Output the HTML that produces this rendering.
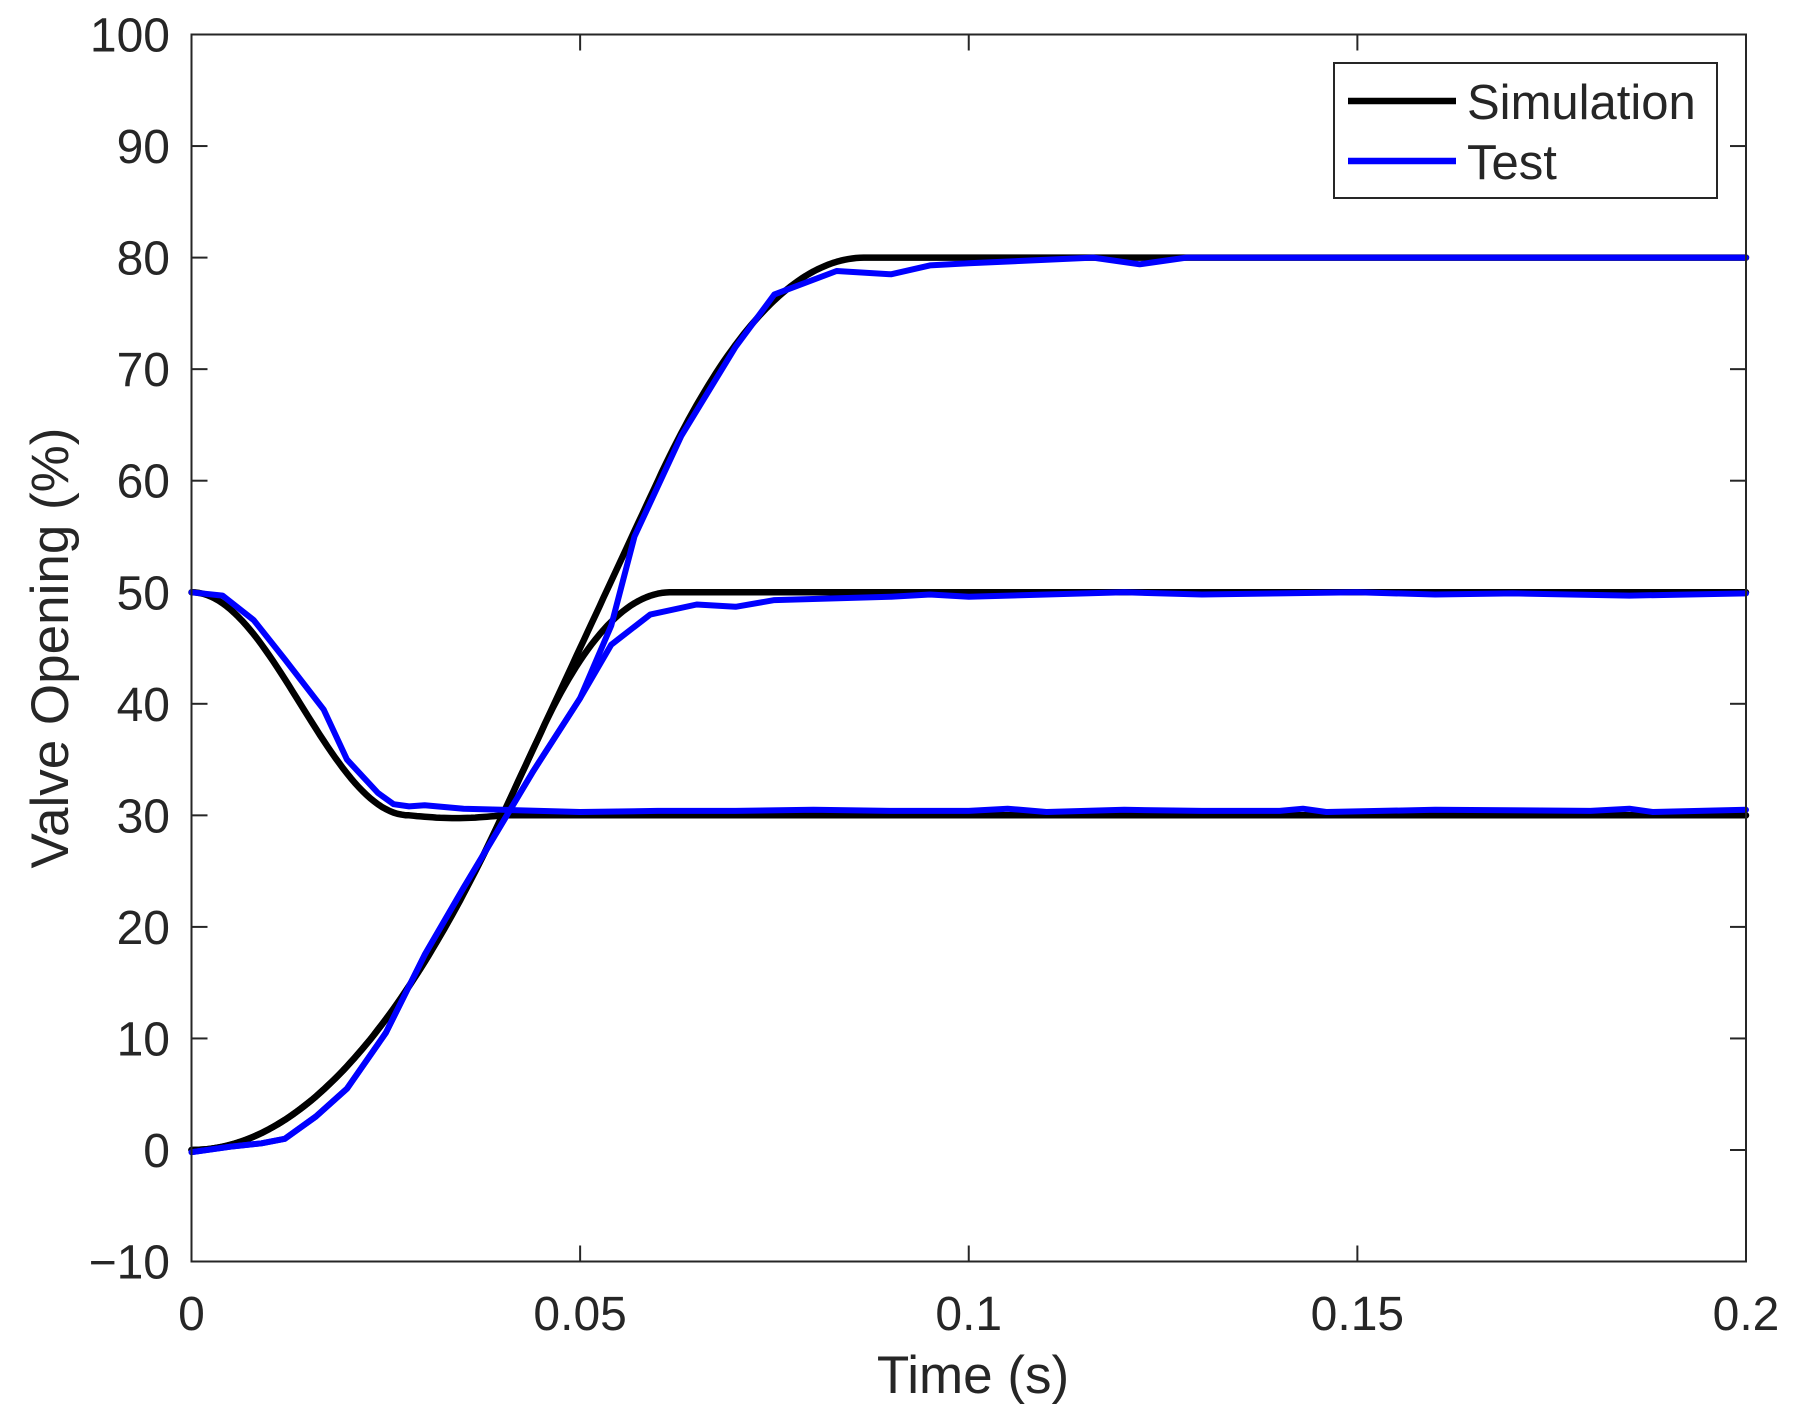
<!DOCTYPE html>
<html><head><meta charset="utf-8"><style>
html,body{margin:0;padding:0;background:#fff}
svg{display:block}
text{font-family:"Liberation Sans",Arial,sans-serif;fill:#262626}
</style></head><body>
<svg id="s" width="1799" height="1428" xmlns="http://www.w3.org/2000/svg">
<rect width="1799" height="1428" fill="#fff"/>
<g id="ticks" stroke="#262626" stroke-width="2"></g>
<g id="lines" fill="none" stroke-linejoin="round" stroke-linecap="round"></g>
<rect x="191.5" y="34.5" width="1554.5" height="1227" fill="none" stroke="#262626" stroke-width="2"/>
<g id="labels" font-size="48"></g>
<text x="973" y="1393" font-size="53" text-anchor="middle">Time (s)</text>
<text transform="translate(68,648) rotate(-90)" font-size="53" text-anchor="middle">Valve Opening (%)</text>
<rect x="1334" y="63" width="383" height="135" fill="#fff" stroke="#262626" stroke-width="2"/>
<line x1="1348" y1="101" x2="1456" y2="101" stroke="#000" stroke-width="6.5"/>
<line x1="1348" y1="161" x2="1456" y2="161" stroke="#0000ff" stroke-width="6.5"/>
<text x="1467" y="119" font-size="49">Simulation</text>
<text x="1467" y="179" font-size="49">Test</text>
</svg>
<script>
const X=t=>191.5+t*7772.5, Y=v=>34.5+(100-v)*11.155;
const NS="http://www.w3.org/2000/svg";
function el(p,tag,a,txt){const e=document.createElementNS(NS,tag);for(const k in a)e.setAttribute(k,a[k]);if(txt!=null)e.textContent=txt;document.getElementById(p).appendChild(e);}
for(let v=-10;v<=100;v+=10){const y=Y(v);
 if(v>-10&&v<100){el('ticks','line',{x1:191.5,y1:y,x2:207.5,y2:y});el('ticks','line',{x1:1746,y1:y,x2:1730,y2:y});}
 el('labels','text',{x:170,y:y+17,'text-anchor':'end'},v<0?'\u221210':String(v));}
[0,0.05,0.1,0.15,0.2].forEach((t,i)=>{const x=X(t);
 if(i>0&&i<4){el('ticks','line',{x1:x,y1:1261.5,x2:x,y2:1245.5});el('ticks','line',{x1:x,y1:34.5,x2:x,y2:50.5});}
 el('labels','text',{x:x,y:1330,'text-anchor':'middle'},['0','0.05','0.1','0.15','0.2'][i]);});
function sim(final,tl){
 const pts=[];const s=1500;const vl=30+s*(tl-0.04);const T=2*(final-vl)/s;
 for(let t=0;t<=0.2001;t+=0.0005){let v;
  if(t<0.04)v=30*(t/0.04)**2;else if(t<tl)v=30+s*(t-0.04);
  else if(t<tl+T){const d=t-tl;v=vl+s*d-s*d*d/(2*T);}else v=final;pts.push([t,v]);}
 return pts;}
function sim30(){const pts=[];for(let t=0;t<=0.2001;t+=0.0005){let v;
 if(t<0.028)v=40+10*Math.cos(Math.PI*t/0.028);else if(t<0.04)v=30-0.25*Math.sin(Math.PI*(t-0.028)/0.012);else v=30;pts.push([t,v]);}return pts;}
function path(pts,col,w){el('lines','polyline',{points:pts.map(p=>X(p[0]).toFixed(1)+','+Y(p[1]).toFixed(1)).join(' '),stroke:col,'stroke-width':w});}
path(sim(80,0.06),'#000',6.5);
path(sim(50,0.045),'#000',6.5);
path(sim30(),'#000',6.5);
const low=[[0,-0.2],[0.005,0.3],[0.009,0.6],[0.012,1],[0.016,3],[0.02,5.5],[0.025,10.5],[0.03,17.5],[0.035,23.5],[0.038,27],[0.044,34],[0.05,40.5]];
const t80=low.concat([[0.054,47],[0.057,55],[0.063,64],[0.07,72],[0.075,76.7],[0.083,78.8],[0.09,78.5],[0.095,79.3],[0.1,79.5],[0.11,79.8],[0.116,80],[0.122,79.4],[0.128,80],[0.2,80]]);
const t50=low.concat([[0.054,45.3],[0.059,48],[0.065,48.9],[0.07,48.7],[0.075,49.3],[0.09,49.6],[0.095,49.8],[0.1,49.6],[0.11,49.8],[0.12,50],[0.13,49.8],[0.14,49.9],[0.15,50],[0.16,49.8],[0.17,49.9],[0.185,49.7],[0.2,49.9]]);
const t30=[[0,50],[0.004,49.7],[0.008,47.5],[0.012,44],[0.017,39.5],[0.02,35],[0.024,32],[0.026,31],[0.028,30.8],[0.03,30.9],[0.035,30.6],[0.04,30.5],[0.05,30.3],[0.06,30.4],[0.07,30.4],[0.08,30.5],[0.09,30.4],[0.1,30.4],[0.105,30.6],[0.11,30.3],[0.12,30.5],[0.13,30.4],[0.14,30.4],[0.143,30.6],[0.146,30.3],[0.16,30.5],[0.18,30.4],[0.185,30.6],[0.188,30.3],[0.2,30.5]];
path(t80,'#0000ff',6);path(t50,'#0000ff',6);path(t30,'#0000ff',6);
</script>
</body></html>
